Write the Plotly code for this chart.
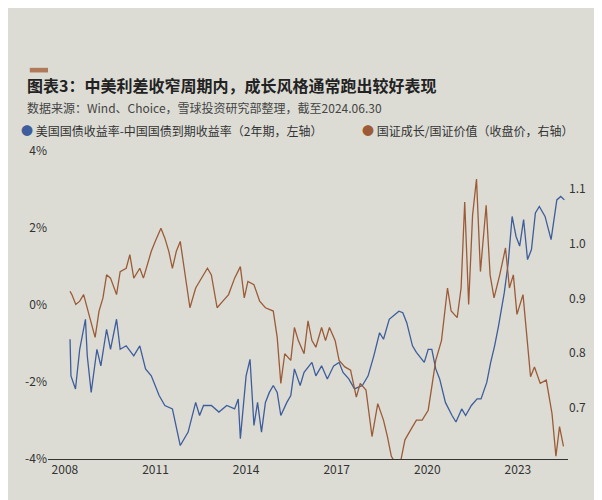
import plotly.graph_objects as go

# US-China 2y yield spread (%), left axis
spread_year = [2008.17, 2008.2, 2008.35, 2008.49, 2008.68, 2008.74, 2008.87, 2009.06, 2009.19, 2009.38,
               2009.51, 2009.71, 2009.83, 2010.03, 2010.28, 2010.48, 2010.67, 2010.86, 2011.12, 2011.31,
               2011.56, 2011.82, 2012.08, 2012.33, 2012.46, 2012.59, 2012.85, 2013.10, 2013.36, 2013.62,
               2013.74, 2013.81, 2014.00, 2014.13, 2014.26, 2014.38, 2014.51, 2014.64, 2014.77, 2014.90,
               2015.03, 2015.15, 2015.35, 2015.48, 2015.60, 2015.79, 2015.92, 2016.18, 2016.31, 2016.50,
               2016.69, 2016.90, 2017.08, 2017.21, 2017.40, 2017.59, 2017.85, 2018.04, 2018.23, 2018.42,
               2018.55, 2018.74, 2018.94, 2019.06, 2019.19, 2019.32, 2019.51, 2019.64, 2019.90, 2020.03,
               2020.15, 2020.28, 2020.41, 2020.60, 2020.82, 2020.95, 2021.14, 2021.27, 2021.46, 2021.65,
               2021.78, 2021.97, 2022.10, 2022.23, 2022.36, 2022.55, 2022.68, 2022.81, 2022.94, 2023.06,
               2023.19, 2023.32, 2023.45, 2023.58, 2023.71, 2023.90, 2024.10, 2024.29, 2024.42, 2024.54]
spread_val = [-0.89, -1.84, -2.18, -1.15, -0.37, -1.32, -2.27, -1.15, -1.58, -0.63,
              -1.15, -0.37, -1.15, -1.06, -1.32, -1.06, -1.66, -1.84, -2.35, -2.61,
              -2.70, -3.65, -3.30, -2.53, -2.87, -2.61, -2.61, -2.78, -2.61, -2.70,
              -2.44, -3.47, -1.84, -1.41, -3.13, -2.53, -3.30, -2.53, -2.27, -2.09,
              -2.27, -2.87, -2.53, -2.35, -1.66, -2.09, -1.75, -1.49, -1.84, -1.58,
              -1.92, -1.58, -1.49, -1.75, -1.92, -2.18, -2.09, -1.84, -1.32, -0.72,
              -0.89, -0.37, -0.24, -0.16, -0.20, -0.46, -1.06, -1.23, -1.49, -1.15,
              -1.15, -1.66, -1.92, -2.53, -2.87, -3.04, -2.70, -2.87, -2.61, -2.44,
              -2.44, -2.01, -1.49, -1.06, -0.54, 0.32, 1.09, 2.30, 1.78, 1.53,
              2.22, 1.18, 1.44, 2.39, 2.56, 2.30, 1.70, 2.73, 2.82, 2.73]

# Growth / value ratio, right axis
ratio_year = [2008.17, 2008.23, 2008.36, 2008.49, 2008.62, 2008.74, 2008.87, 2009.00, 2009.13, 2009.26,
              2009.38, 2009.51, 2009.71, 2009.83, 2010.03, 2010.15, 2010.28, 2010.48, 2010.60, 2010.73,
              2010.86, 2010.99, 2011.18, 2011.31, 2011.44, 2011.56, 2011.69, 2011.82, 2012.01, 2012.14,
              2012.33, 2012.53, 2012.72, 2012.85, 2013.04, 2013.23, 2013.42, 2013.62, 2013.81, 2013.94,
              2014.06, 2014.26, 2014.45, 2014.64, 2014.90, 2015.03, 2015.15, 2015.28, 2015.48, 2015.60,
              2015.73, 2015.92, 2016.05, 2016.18, 2016.31, 2016.50, 2016.63, 2016.76, 2016.95, 2017.08,
              2017.27, 2017.46, 2017.65, 2017.78, 2017.97, 2018.17, 2018.36, 2018.55, 2018.68, 2018.81,
              2018.94, 2019.13, 2019.26, 2019.45, 2019.64, 2019.83, 2020.03, 2020.15, 2020.28, 2020.47,
              2020.67, 2020.79, 2020.99, 2021.12, 2021.24, 2021.37, 2021.50, 2021.63, 2021.76, 2021.95,
              2022.08, 2022.21, 2022.40, 2022.59, 2022.72, 2022.85, 2022.97, 2023.17, 2023.29, 2023.42,
              2023.55, 2023.74, 2023.94, 2024.13, 2024.26, 2024.38, 2024.51]
ratio_val = [0.913, 0.907, 0.889, 0.895, 0.907, 0.883, 0.853, 0.829, 0.877, 0.901,
             0.943, 0.937, 0.907, 0.949, 0.955, 0.980, 0.937, 0.955, 0.937, 0.961,
             0.986, 1.004, 1.028, 1.010, 0.986, 0.955, 0.986, 1.004, 0.931, 0.883,
             0.919, 0.937, 0.955, 0.943, 0.883, 0.895, 0.907, 0.937, 0.958, 0.901,
             0.931, 0.925, 0.895, 0.883, 0.877, 0.829, 0.745, 0.799, 0.787, 0.847,
             0.823, 0.799, 0.859, 0.823, 0.811, 0.847, 0.823, 0.847, 0.823, 0.787,
             0.775, 0.769, 0.720, 0.745, 0.733, 0.648, 0.708, 0.678, 0.648, 0.612,
             0.600, 0.606, 0.642, 0.660, 0.678, 0.678, 0.696, 0.739, 0.787, 0.823,
             0.919, 0.877, 0.865, 0.919, 1.076, 0.889, 1.052, 1.118, 0.949, 1.070,
             0.943, 0.901, 0.943, 0.992, 0.919, 0.943, 0.871, 0.907, 0.841, 0.757,
             0.775, 0.745, 0.751, 0.690, 0.612, 0.666, 0.630]

x_ticks = [2008, 2011, 2014, 2017, 2020, 2023]
left_ticks = [4, 2, 0, -2, -4]
right_ticks = [1.1, 1.0, 0.9, 0.8, 0.7, 0.6]

blue = "#3d5d9c"
brown = "#9c5b36"
font = "Noto Sans CJK SC"

fig = go.Figure()
fig.add_trace(go.Scatter(x=spread_year, y=spread_val, mode="lines",
                         line=dict(color=blue, width=1.3), showlegend=False))
fig.add_trace(go.Scatter(x=ratio_year, y=ratio_val, mode="lines", yaxis="y2",
                         line=dict(color=brown, width=1.3), showlegend=False))

fig.update_layout(
    width=602, height=500,
    paper_bgcolor="#dcdcd5", plot_bgcolor="rgba(0,0,0,0)",
    font=dict(family=font, color="#333", size=12),
    margin=dict(l=40, r=42, t=143, b=49),
    xaxis=dict(range=[2007.44, 2024.66], tickvals=x_ticks, showgrid=False, zeroline=False,
               showline=True, linecolor="#333", linewidth=1, ticks="", tickfont=dict(size=12)),
    yaxis=dict(range=[-4, 4], tickvals=left_ticks, ticktext=[f"{v}%" for v in left_ticks],
               showgrid=False, zeroline=False, ticks=""),
    yaxis2=dict(range=[0.607, 1.169], tickvals=right_ticks, ticktext=[f"{v:.1f}" for v in right_ticks],
                overlaying="y", side="right", showgrid=False, zeroline=False, ticks=""),
    shapes=[dict(type="rect", xref="paper", yref="paper", x0=-0.035, x1=0.0, y0=1.255, y1=1.27,
                 fillcolor="#b07a5a", line_width=0)],
    annotations=[
        dict(text="<b>图表3：中美利差收窄周期内，成长风格通常跑出较好表现</b>", xref="paper", yref="paper",
             x=-0.045, y=1.215, xanchor="left", yanchor="middle", showarrow=False,
             font=dict(size=16, color="#222")),
        dict(text="数据来源：Wind、Choice，雪球投资研究部整理，截至2024.06.30", xref="paper", yref="paper",
             x=-0.045, y=1.14, xanchor="left", yanchor="middle", showarrow=False,
             font=dict(size=12, color="#444")),
        dict(text=f"<span style='color:{blue}'>●</span> 美国国债收益率-中国国债到期收益率（2年期，左轴）",
             xref="paper", yref="paper", x=-0.055, y=1.065, xanchor="left", yanchor="middle",
             showarrow=False, font=dict(size=12, color="#333")),
        dict(text=f"<span style='color:{brown}'>●</span> 国证成长/国证价值（收盘价，右轴）",
             xref="paper", yref="paper", x=0.6, y=1.065, xanchor="left", yanchor="middle",
             showarrow=False, font=dict(size=12, color="#333")),
    ],
)

fig.write_html("out.html")
